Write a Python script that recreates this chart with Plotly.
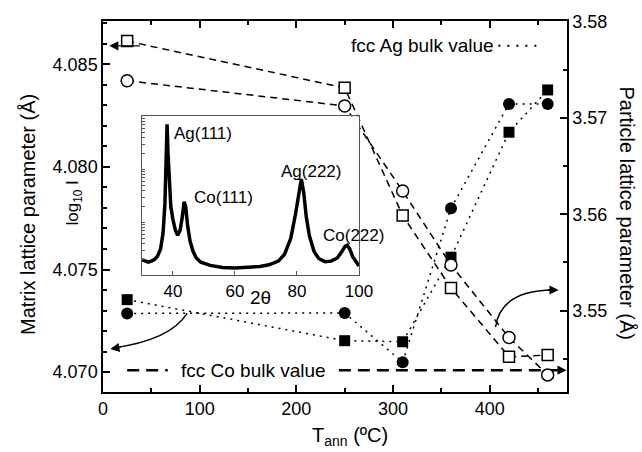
import plotly.graph_objects as go

# ---------------- data ----------------
T_ann = [25, 250, 310, 360, 420, 460]
matrix_sq = [4.07353, 4.07153, 4.07148, 4.07560, 4.08169, 4.08375]   # filled squares (left axis)
matrix_ci = [4.07286, 4.07288, 4.07048, 4.07799, 4.08307, 4.08307]   # filled circles (left axis)
particle_sq = [3.57801, 3.57315, 3.55988, 3.55234, 3.54520, 3.54537]  # open squares (right axis)
particle_ci = [3.57389, 3.57127, 3.56242, 3.55473, 3.54719, 3.54331]  # open circles (right axis)

ag_bulk = 4.0859
co_bulk = 3.5438

two_theta = [30, 31, 32, 33, 34, 35, 36, 36.8, 37.4, 37.8, 38.1, 38.4, 38.8, 39.3, 40, 40.8,
             41.5, 42.3, 43, 43.6, 44.1, 44.7, 45.5, 46.5, 47.5, 49, 52, 56, 60, 64, 68, 71,
             74, 76, 78, 79.5, 80.5, 81.4, 82.2, 83, 84, 85.5, 87, 89, 91, 93, 94.5, 95.5,
             96.2, 97, 98, 99, 100]
log_I = [1.30, 1.28, 1.25, 1.27, 1.30, 1.36, 1.50, 1.80, 2.35, 3.20, 3.85, 3.30, 2.70, 2.30,
         2.05, 1.85, 1.76, 1.85, 2.10, 2.39, 2.30, 1.95, 1.65, 1.45, 1.33, 1.25, 1.19, 1.15,
         1.14, 1.15, 1.17, 1.20, 1.27, 1.40, 1.70, 2.15, 2.55, 2.82, 2.55, 2.10, 1.75, 1.45,
         1.32, 1.26, 1.27, 1.33, 1.45, 1.55, 1.57, 1.50, 1.35, 1.25, 1.18]

x_ticks = [0, 100, 200, 300, 400]
inset_ticks = [40, 60, 80, 100]

FONT = "Liberation Sans, Arial, sans-serif"
fig = go.Figure()

# ---- matrix (left axis) ----
fig.add_trace(go.Scatter(x=T_ann, y=matrix_sq, mode="lines+markers",
                         line=dict(color="black", width=1.5, dash="2px,5px"),
                         marker=dict(symbol="square", size=11, color="black"),
                         xaxis="x", yaxis="y", showlegend=False))
fig.add_trace(go.Scatter(x=T_ann, y=matrix_ci, mode="lines+markers",
                         line=dict(color="black", width=1.5, dash="2px,5px"),
                         marker=dict(symbol="circle", size=12, color="black"),
                         xaxis="x", yaxis="y", showlegend=False))
# Ag bulk dotted reference
fig.add_trace(go.Scatter(x=[409, 453], y=[ag_bulk, ag_bulk], mode="lines",
                         line=dict(color="black", width=2, dash="2px,7px"),
                         xaxis="x", yaxis="y", showlegend=False, hoverinfo="skip"))

# ---- particle (right axis) ----
fig.add_trace(go.Scatter(x=[25, 67, None, 244, 476], y=[co_bulk, co_bulk, None, co_bulk, co_bulk],
                         mode="lines", line=dict(color="black", width=2.5, dash="12px,7px"),
                         xaxis="x", yaxis="y2", showlegend=False, hoverinfo="skip"))
fig.add_trace(go.Scatter(x=T_ann, y=particle_sq, mode="lines+markers",
                         line=dict(color="black", width=1.5, dash="7px,5px"),
                         marker=dict(symbol="square", size=11, color="white",
                                     line=dict(color="black", width=1.5)),
                         xaxis="x", yaxis="y2", showlegend=False))
fig.add_trace(go.Scatter(x=T_ann, y=particle_ci, mode="lines+markers",
                         line=dict(color="black", width=1.5, dash="7px,5px"),
                         marker=dict(symbol="circle", size=12, color="white",
                                     line=dict(color="black", width=1.5)),
                         xaxis="x", yaxis="y2", showlegend=False))

# ---- inset XRD ----
fig.add_trace(go.Scatter(x=two_theta, y=log_I, mode="lines",
                         line=dict(color="black", width=3.5),
                         xaxis="x2", yaxis="y3", showlegend=False))

tickfont = dict(family=FONT, size=18, color="black")
axis_common = dict(showline=True, linecolor="black", linewidth=1.5, ticks="inside",
                   tickcolor="black", tickwidth=1.5, ticklen=7, showgrid=False,
                   zeroline=False, tickfont=tickfont)

inset_minor = [d + m for d in (1, 2, 3) for m in (0.301, 0.477, 0.602, 0.699, 0.778, 0.845, 0.903, 0.954)]

fig.update_layout(
    width=642, height=452,
    margin=dict(l=103, r=75, t=19, b=60),
    paper_bgcolor="white", plot_bgcolor="white",
    font=dict(family=FONT, color="black"),
    xaxis=dict(range=[0, 480], tickvals=x_ticks, mirror="ticks",
               minor=dict(dtick=50, tick0=0, ticks="inside", ticklen=4, tickcolor="black", tickwidth=1.5),
               **axis_common),
    yaxis=dict(range=[4.06903, 4.08711], dtick=0.005, tick0=4.070, tickformat=".3f",
               minor=dict(dtick=0.001, tick0=4.070, ticks="inside", ticklen=4, tickcolor="black", tickwidth=1.5),
               **axis_common),
    yaxis2=dict(range=[3.54153, 3.5801], dtick=0.01, tick0=3.55, tickformat=".2f",
                overlaying="y", side="right", anchor="x",
                minor=dict(dtick=0.005, tick0=3.55, ticks="inside", ticklen=4, tickcolor="black", tickwidth=1.5),
                **axis_common),
    xaxis2=dict(domain=[0.084, 0.5517], anchor="y3", range=[30, 100], tickvals=inset_ticks,
                showline=True, mirror=True, linecolor="#555", linewidth=1, ticks="inside",
                ticklen=4, tickcolor="#555", showgrid=False, zeroline=False,
                tickfont=dict(family=FONT, size=17, color="black")),
    yaxis3=dict(domain=[0.3142, 0.7428], anchor="x2", range=[1.0, 4.0],
                tickvals=[1, 2, 3, 4] + inset_minor, showticklabels=False,
                showline=True, mirror=True, linecolor="#555", linewidth=1, ticks="inside",
                ticklen=3, tickcolor="#555", showgrid=False, zeroline=False),
)

ann = []
def txt(text, x, y, xref="paper", yref="paper", size=19, angle=0, xanchor="center", yanchor="middle", bg=None):
    d = dict(text=text, x=x, y=y, xref=xref, yref=yref, showarrow=False, textangle=angle,
             xanchor=xanchor, yanchor=yanchor, font=dict(family=FONT, size=size, color="black"))
    if bg:
        d["bgcolor"] = bg
    ann.append(d)

txt("Matrix lattice parameter (Å)", -0.163, 0.478, angle=-90, size=20)
txt("Particle lattice parameter (Å)", 1.13, 0.483, angle=90, size=20)
txt("T<sub>ann</sub> (ºC)", 0.533, -0.12, size=20)
txt("fcc Ag bulk value", 330, ag_bulk, xref="x", yref="y", size=19)
txt("fcc Co bulk value", 156, co_bulk, xref="x", yref="y2", size=19, yanchor="middle")
# inset labels
txt("log<sub>10</sub> I", -0.063, 0.51, angle=-90, size=17)
txt("2θ", 0.34, 0.255, size=19)
txt("Ag(111)", 39.6, 3.687, xref="x2", yref="y3", size=17, xanchor="left")
txt("Co(111)", 46.0, 2.468, xref="x2", yref="y3", size=17, xanchor="left")
txt("Ag(222)", 74.3, 2.956, xref="x2", yref="y3", size=17, xanchor="left")
txt("Co(222)", 87.6, 1.75, xref="x2", yref="y3", size=17, xanchor="left")

def arrow(x, y, ax, ay, yref):
    ann.append(dict(x=x, y=y, xref="x", yref=yref, ax=ax, ay=ay, text="", showarrow=True,
                    arrowhead=2, arrowsize=1.3, arrowwidth=1.4, arrowcolor="black"))

arrow(6.5, ag_bulk, 32, 0, "y")          # Ag bulk -> left axis
arrow(7.6, 4.07113, 12, -2, "y")         # curved arrow head (left)
arrow(471.3, 3.55213, -12, 0, "y2")      # curved arrow head (right)
arrow(479.5, co_bulk, -16, 0, "y2")      # Co bulk -> right axis
fig.update_layout(annotations=ann)

fig.update_layout(shapes=[
    dict(type="path", xref="x", yref="y", path="M 87,4.07286 Q 69.7,4.07156 10,4.07117",
         line=dict(color="black", width=1.4)),
    dict(type="path", xref="x", yref="y2", path="M 406.1,3.54828 Q 411.3,3.55206 465,3.55213",
         line=dict(color="black", width=1.4)),
])

fig.write_html("out.html")
